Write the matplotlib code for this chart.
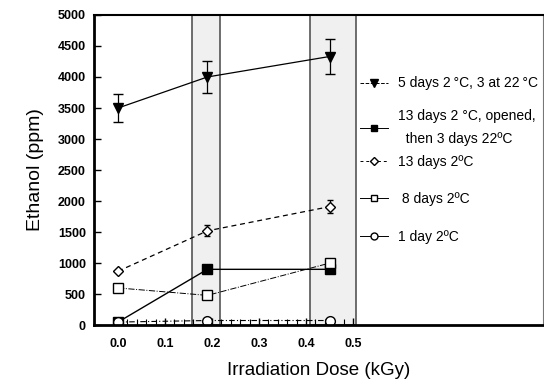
import matplotlib
matplotlib.use("Agg")
import numpy as np
import matplotlib.pyplot as plt
from matplotlib.lines import Line2D

plt.rcParams["font.family"] = ["Liberation Sans", "DejaVu Sans"]

# irradiation doses (kGy) for each group of measurements
dose = [0.0, 0.19, 0.45]

# ethanol (ppm)
warm_5d = [3500, 4000, 4330]
warm_5d_err = [230, 260, 280]
opened_13d = [50, 900, 900]
cold_13d = [870, 1520, 1910]
cold_13d_err = [0, 90, 110]
cold_8d = [600, 480, 1000]
cold_1d = [50, 75, 75]

labels = ["5 days 2\u2009°C, 3 at 22\u2009°C",
          "13 days 2 °C, opened,\n  then 3 days 22ºC",
          "13 days 2ºC",
          " 8 days 2ºC",
          "1 day 2ºC"]

# shaded irradiation ranges
bands = [(0.157, 0.217), (0.409, 0.506)]

fig = plt.figure(figsize=(5.44, 3.83), dpi=100)
ax = fig.add_axes([0.173, 0.151, 0.825, 0.810])

for lo, hi in bands:
    ax.axvspan(lo, hi, facecolor="#f0f0f0", edgecolor="#555555", linewidth=1.2, zorder=0)

ax.errorbar(dose, warm_5d, yerr=warm_5d_err, color="black", marker="v",
            markersize=7, linewidth=0.9, capsize=3.5, elinewidth=0.9,
            linestyle="-")
ax.plot(dose, opened_13d, color="black", marker="s", markersize=6.5,
        linewidth=1.0, linestyle="-")
ax.errorbar(dose, cold_13d, yerr=cold_13d_err, color="black", marker="D",
            markersize=5, markerfacecolor="white", linewidth=0.9,
            capsize=2.5, elinewidth=0.9, linestyle=(0, (4, 3)))
ax.plot(dose, cold_8d, color="black", marker="s", markersize=7,
        markerfacecolor="white", linewidth=0.7, linestyle="-.")
ax.plot(dose, cold_1d, color="black", marker="o", markersize=7,
        markerfacecolor="white", linewidth=0.8, linestyle=(0, (5, 2, 1, 2)))

ax.set_xlim(-0.051, 0.904)
ax.set_ylim(0, 5000)
ax.set_xticks([0.0, 0.1, 0.2, 0.3, 0.4, 0.5])
ax.set_xticks(np.arange(0.02, 0.5, 0.02), minor=True)
ax.set_yticks(range(0, 5001, 500))
ax.tick_params(axis="both", direction="in", labelsize=9, width=1, length=5)
ax.tick_params(axis="x", which="minor", direction="in", length=4, width=0.8)
for lab in ax.get_xticklabels() + ax.get_yticklabels():
    lab.set_fontweight("bold")
ax.tick_params(axis="x", pad=9)
ax.tick_params(axis="y", pad=6)

for side in ["left", "bottom"]:
    ax.spines[side].set_linewidth(2)
ax.spines["top"].set_linewidth(1.5)
ax.spines["right"].set_linewidth(0.8)
ax.spines["right"].set_color("#777777")

ax.set_xlabel("Irradiation Dose (kGy)", fontsize=13.5, labelpad=9)
ax.set_ylabel("Ethanol (ppm)", fontsize=14, labelpad=10)

# small legend swatches, as in the original
handles = [
    Line2D([], [], color="black", marker="v", markersize=6, linewidth=0.7, linestyle="--"),
    Line2D([], [], color="black", marker="s", markersize=5, linewidth=0.7),
    Line2D([], [], color="black", marker="D", markersize=4, markerfacecolor="white",
           linewidth=0.7, linestyle=(0, (3, 3))),
    Line2D([], [], color="black", marker="s", markersize=5, markerfacecolor="white",
           linewidth=0.7),
    Line2D([], [], color="black", marker="o", markersize=5, markerfacecolor="white",
           linewidth=0.7),
]
leg_kw = dict(loc="upper left", frameon=False, fontsize=10, handlelength=2.0,
              handletextpad=0.7, borderpad=0)

# the legend is split in two so the uneven row spacing can be matched
leg_top = ax.legend(handles[:2], labels[:2], bbox_to_anchor=(0.578, 0.824),
                    labelspacing=1.34, **leg_kw)
leg_top.get_texts()[1].set_linespacing(1.85)
ax.add_artist(leg_top)
ax.legend(handles[2:], labels[2:], bbox_to_anchor=(0.578, 0.572),
          labelspacing=1.7, **leg_kw)

fig.savefig("out.png", dpi=100)
